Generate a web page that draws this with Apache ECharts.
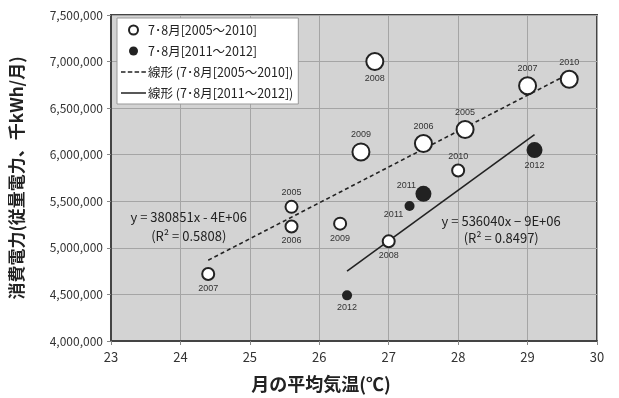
<!DOCTYPE html>
<html><head><meta charset="utf-8">
<script src="https://cdn.jsdelivr.net/npm/echarts@6/dist/echarts.min.js"></script>
<style>html,body{margin:0;padding:0;background:#fff}#c{width:619px;height:398px}</style>
</head><body><div id="c"></div>
<script>
// ---- data ----
var openX = [24.4, 25.6, 25.6, 26.3, 26.6, 26.8, 27.0, 27.5, 28.1, 28.0, 29.0, 29.6];
var openY = [4720000, 5440000, 5230000, 5260000, 6030000, 7000000, 5070000, 6120000, 6270000, 5830000, 6740000, 6810000];
var openYear = ['2007','2005','2006','2009','2009','2008','2008','2006','2005','2010','2007','2010'];
var openAug = [false,false,false,false,true,true,false,true,true,false,true,true];

var filledX = [26.4, 27.3, 27.5, 29.1];
var filledY = [4490000, 5450000, 5580000, 6050000];
var filledYear = ['2012','2011','2011','2012'];
var filledAug = [false,false,true,true];

var trendOpenX = [24.4, 29.6];
var trendOpenY = [4867000, 6870000];
var trendFilledX = [26.4, 29.1];
var trendFilledY = [4750000, 6215000];

var seriesNames = ['7･8月[2005～2010]','7･8月[2011～2012]','線形 (7･8月[2005～2010])','線形 (7･8月[2011～2012])'];
var eqOpen = ['y = 380851x - 4E+06', '(R² = 0.5808)'];
var eqFilled = ['y = 536040x − 9E+06', '(R² = 0.8497)'];
var xTicks = [23,24,25,26,27,28,29,30];
var yTicks = [4000000,4500000,5000000,5500000,6000000,6500000,7000000,7500000];
var xName = '月の平均気温(℃)';
var yName = '消費電力(従量電力、千kWh/月)';

// ---- styles ----
var openLabelPos = ['bottom','top','bottom','bottom','top','bottom','bottom','top','top','top','top','top'];
var filledLabelPos = ['bottom','bottom','top','bottom'];
var filledLabelOffset = [[0,0],[-16,-4],[-17,7],[0,0]];
var FONT = '"Noto Sans CJK JP","Noto Sans",sans-serif';
var ICON_SOLID = 'path://M0,0L0.01,0M0,3.8H25V5.2H0ZM25,9L25.01,9';
var ICON_DASH = 'path://M0,0L0.01,0M0,3.8H4.5V5.2H0ZM6.8,3.8H11.3V5.2H6.8ZM13.6,3.8H18.1V5.2H13.6ZM20.4,3.8H24.9V5.2H20.4ZM25,9L25.01,9';

function pts(xs, ys, yrs, aug, pos, offs, big, small) {
  return xs.map(function (x, i) {
    return {
      value: [x, ys[i]], name: yrs[i],
      symbolSize: aug[i] ? big : small,
      label: { position: pos[i], offset: offs ? offs[i] : [0,0] }
    };
  });
}
function line(xs, ys) { return xs.map(function (x, i) { return [x, ys[i]]; }); }

var chart = echarts.init(document.getElementById('c'));
var ptLabel = { show: true, formatter: '{b}', fontSize: 9, color: '#333', fontFamily: '"Liberation Sans",Arial,sans-serif', distance: 3 };
chart.setOption({
  animation: false,
  backgroundColor: '#fff',
  grid: { left: 110, right: 22, top: 15, bottom: 56, show: true, backgroundColor: '#d3d3d3', borderColor: '#444', borderWidth: 2 },
  legend: {
    data: [
      { name: seriesNames[0], icon: 'circle', itemStyle: { color: '#fff', borderColor: '#222', borderWidth: 2 } },
      { name: seriesNames[1], icon: 'circle' },
      { name: seriesNames[2], icon: ICON_DASH, itemStyle: { color: '#222', borderWidth: 0 } },
      { name: seriesNames[3], icon: ICON_SOLID, itemStyle: { color: '#222', borderWidth: 0 } }
    ],
    orient: 'vertical', left: 117, top: 18, itemGap: 5, itemWidth: 25, itemHeight: 9,
    backgroundColor: '#fff', borderColor: '#999', borderWidth: 1, padding: [4, 5, 3, 4],
    textStyle: { fontSize: 12.5, color: '#222', fontFamily: FONT, padding: [0,0,0,-3], lineHeight: 16 }
  },
  xAxis: {
    type: 'value', min: xTicks[0], max: xTicks[xTicks.length-1], interval: 1,
    name: xName, nameLocation: 'middle', nameGap: 34,
    nameTextStyle: { fontSize: 18, fontWeight: 'bold', color: '#222', fontFamily: FONT, padding: [0, 66, 0, 0] },
    axisLine: { lineStyle: { color: '#444', width: 2 } },
    axisTick: { show: true, length: 4, lineStyle: { color: '#888' } },
    axisLabel: { fontSize: 13, color: '#333', fontFamily: FONT, margin: 10 },
    splitLine: { lineStyle: { color: '#a5a5a5', width: 1 } }
  },
  yAxis: {
    type: 'value', min: yTicks[0], max: yTicks[yTicks.length-1], interval: 500000,
    name: yName, nameLocation: 'middle', nameGap: 86,
    nameTextStyle: { fontSize: 17, fontWeight: 'bold', color: '#222', fontFamily: FONT },
    axisLine: { lineStyle: { color: '#444', width: 2 } },
    axisTick: { show: true, length: 4, lineStyle: { color: '#888' } },
    axisLabel: { fontSize: 12, color: '#333', fontFamily: FONT, margin: 8,
      formatter: function (v) { return v.toLocaleString('en-US'); } },
    splitLine: { lineStyle: { color: '#a5a5a5', width: 1 } }
  },
  series: [
    { name: seriesNames[2], type: 'line', data: line(trendOpenX, trendOpenY), symbol: 'none', z: 1,
      lineStyle: { color: '#222', width: 1.6, type: [4, 3] }, itemStyle: { color: '#222' } },
    { name: seriesNames[3], type: 'line', data: line(trendFilledX, trendFilledY), symbol: 'none', z: 1,
      lineStyle: { color: '#222', width: 1.6, type: 'solid' }, itemStyle: { color: '#222' } },
    { name: seriesNames[0], type: 'scatter', z: 3,
      data: pts(openX, openY, openYear, openAug, openLabelPos, null, 17, 12),
      itemStyle: { color: '#fff', borderColor: '#222', borderWidth: 2, opacity: 1 },
      label: ptLabel },
    { name: seriesNames[1], type: 'scatter', z: 3,
      data: pts(filledX, filledY, filledYear, filledAug, filledLabelPos, filledLabelOffset, 16, 10),
      itemStyle: { color: '#222', opacity: 1 },
      label: ptLabel }
  ]
});

function addEq(eq, x, y, gap) {
  var p = chart.convertToPixel({ gridIndex: 0 }, [x, y]);
  var st = function (t) { return { text: t, fill: '#222', font: '13px ' + FONT, align: 'center', verticalAlign: 'middle' }; };
  return [
    { type: 'text', x: p[0], y: p[1], style: st(eq[0]), z: 10 },
    { type: 'text', x: p[0], y: p[1] + gap, style: st(eq[1]), z: 10 }
  ];
}
chart.setOption({ graphic: addEq(eqOpen, 24.12, 5328000, 19).concat(addEq(eqFilled, 28.62, 5285000, 17)) });
</script></body></html>
